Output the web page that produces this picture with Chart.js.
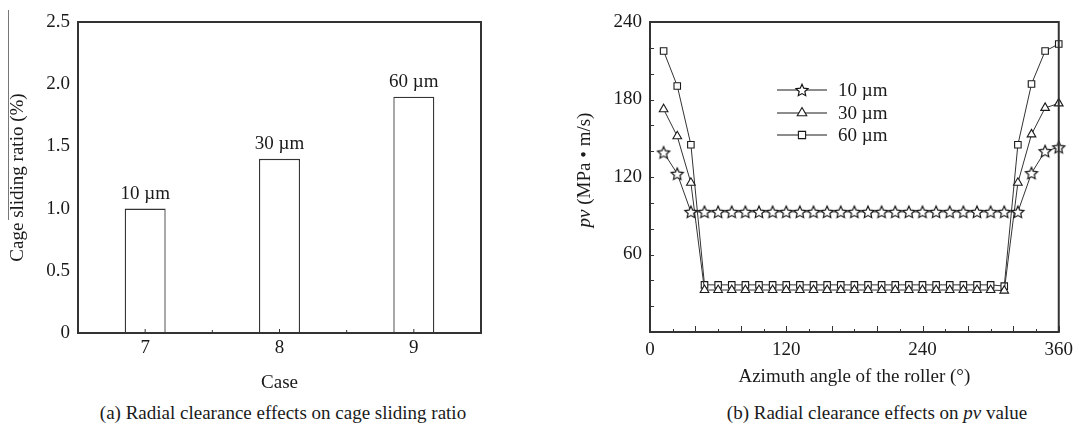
<!DOCTYPE html>
<html>
<head>
<meta charset="utf-8">
<script src="https://cdn.jsdelivr.net/npm/chart.js@4.4.1/dist/chart.umd.min.js"></script>
<style>
  body { margin: 0; background: #fff; width: 1080px; height: 424px; position: relative; overflow: hidden;
         font-family: "Liberation Serif", "DejaVu Serif", serif; color: #1a1a1a; }
  .wrap { position: absolute; top: 0; width: 540px; height: 395px; }
  #wrapA { left: 0; }
  #wrapB { left: 540px; }
  .cap { position: absolute; top: 402px; font-size: 19px; line-height: 22px; white-space: nowrap; transform: translateX(-50%); }
</style>
</head>
<body>
<div class="wrap" id="wrapA"><canvas id="chartA" width="540" height="395"></canvas></div>
<div class="wrap" id="wrapB"><canvas id="chartB" width="540" height="395"></canvas></div>
<div class="cap" style="left:283px">(a) Radial clearance effects on cage sliding ratio</div>
<div class="cap" style="left:877px">(b) Radial clearance effects on <i>pv</i> value</div>

<script>
/* ─── DATA ───────────────────────────────────────────── */
const cases          = ["7", "8", "9"];
const slidingRatio   = [1.0, 1.4, 1.9];
const clearances     = ["10 µm", "30 µm", "60 µm"];

const azimuth = [12, 24, 36, 48, 60, 72, 84, 96, 108, 120, 132, 144, 156, 168, 180,
                 192, 204, 216, 228, 240, 252, 264, 276, 288, 300, 312, 324, 336, 348, 360];
const pv10 = [139, 122.5, 93, 93, 93, 93, 93, 93, 93, 93, 93, 93, 93, 93, 93,
              93, 93, 93, 93, 93, 93, 93, 93, 93, 93, 93, 93, 123, 140, 143];
const pv30 = [172.5, 151.5, 115.5, 32.5, 32.5, 32.5, 32.5, 32.5, 32.5, 32.5, 32.5, 32.5, 32.5, 32.5, 32.5,
              32.5, 32.5, 32.5, 32.5, 32.5, 32.5, 32.5, 32.5, 32.5, 32.5, 32, 115.5, 153, 173.5, 177];
const pv60 = [217.5, 190.5, 145, 36.5, 36.5, 36.5, 36.5, 36.5, 36.5, 36.5, 36.5, 36.5, 36.5, 36.5, 36.5,
              36.5, 36.5, 36.5, 36.5, 36.5, 36.5, 36.5, 36.5, 36.5, 36.5, 35.5, 145, 192, 217.5, 223];

/* ─── COMMON ─────────────────────────────────────────── */
const INK   = "#1a1a1a";
const FRAME = "#333";
const SERIF = "'Liberation Serif', 'DejaVu Serif', serif";
const FS = 19;
const fontT = { family: SERIF, size: FS };

Chart.defaults.color = INK;
Chart.defaults.font.family = SERIF;

// box round the plot area
const framePlugin = {
  id: "frame",
  afterDraw(chart) {
    const { ctx, chartArea: a } = chart;
    ctx.save();
    ctx.strokeStyle = FRAME;
    ctx.lineWidth = 2;
    ctx.strokeRect(a.left, a.top, a.right - a.left, a.bottom - a.top);
    ctx.restore();
  }
};

// five-point star marker, outlined
function starMarker() {
  const c = document.createElement("canvas");
  c.width = 16; c.height = 16;
  const g = c.getContext("2d");
  g.beginPath();
  for (let i = 0; i < 10; i++) {
    const r = i % 2 ? 3.0 : 6.3;
    const ang = -Math.PI / 2 + i * Math.PI / 5;
    const px = 8 + r * Math.cos(ang), py = 8.6 + r * Math.sin(ang);
    i ? g.lineTo(px, py) : g.moveTo(px, py);
  }
  g.closePath();
  g.fillStyle = "#fff";
  g.fill();
  g.strokeStyle = "#111";
  g.lineWidth = 1.2;
  g.stroke();
  return c;
}

/* ─── CHART A: sliding ratio ─────────────────────────── */
const barLabels = {
  id: "barLabels",
  afterDatasetsDraw(chart) {
    const { ctx } = chart;
    const bars = chart.getDatasetMeta(0).data;
    ctx.save();
    ctx.font = `${FS}px ${SERIF}`;
    ctx.fillStyle = INK;
    ctx.textAlign = "center";
    ctx.textBaseline = "middle";
    bars.forEach((b, i) => ctx.fillText(clearances[i], b.x, b.y - 15));
    ctx.restore();
  }
};

const ticksA = {
  id: "ticksA",
  afterDraw(chart) {
    const { ctx, chartArea: a } = chart;
    const x = chart.scales.x;
    ctx.save();
    ctx.strokeStyle = FRAME;
    ctx.lineWidth = 1;
    ctx.beginPath();
    cases.forEach((c, i) => {
      const px = x.getPixelForValue(i);
      ctx.moveTo(px, a.bottom); ctx.lineTo(px, a.bottom - 4);
      if (i > 0) {
        const mid = (px + x.getPixelForValue(i - 1)) / 2;
        ctx.moveTo(mid, a.bottom); ctx.lineTo(mid, a.bottom - 3);
      }
    });
    ctx.stroke();
    // the stray overline beside the axis title
    ctx.strokeStyle = "#777";
    ctx.beginPath();
    ctx.moveTo(8.5, 10); ctx.lineTo(8.5, 220);
    ctx.stroke();
    ctx.restore();
  }
};

new Chart(document.getElementById("chartA"), {
  type: "bar",
  data: {
    labels: cases,
    datasets: [{
      data: slidingRatio,
      backgroundColor: "#fff",
      borderColor: FRAME,
      borderWidth: 1.3,
      barPercentage: 0.305,
      categoryPercentage: 1,
    }],
  },
  options: {
    responsive: false,
    devicePixelRatio: 1,
    animation: false,
    layout: { padding: { left: 0, top: 22, right: 59, bottom: 0 } },
    plugins: { legend: { display: false }, tooltip: { enabled: false } },
    scales: {
      x: {
        offset: true,
        grid: { display: false, drawTicks: false },
        border: { display: false },
        ticks: { font: fontT, color: INK, padding: 4, maxRotation: 0 },
        title: { display: true, text: "Case", font: fontT, color: INK, padding: { top: 0, bottom: 1 } },
        afterFit: s => { s.height = 62; },
      },
      y: {
        min: 0, max: 2.5,
        grid: { display: false, drawTicks: false },
        border: { display: false },
        ticks: {
          stepSize: 0.5, font: fontT, color: INK, padding: 8,
          callback: v => v === 0 ? "0" : v.toFixed(1),
        },
        title: { display: true, text: "Cage sliding ratio (%)", font: fontT, color: INK, padding: { top: 7, bottom: 0 } },
        afterFit: s => { s.width = 78; },
      },
    },
  },
  plugins: [barLabels, ticksA, framePlugin],
});

/* ─── CHART B: pv value ──────────────────────────────── */
const series = [
  { label: clearances[0], values: pv10, style: starMarker(), radius: 4.5 },
  { label: clearances[1], values: pv30, style: "triangle",   radius: 5 },
  { label: clearances[2], values: pv60, style: "rect",       radius: 4.6 },
];

const ticksB = {
  id: "ticksB",
  afterDraw(chart) {
    const { ctx, chartArea: a } = chart;
    const { x, y } = chart.scales;
    ctx.save();
    ctx.strokeStyle = FRAME;
    ctx.lineWidth = 1;
    ctx.beginPath();
    x.ticks.forEach(t => {
      const px = Math.round(x.getPixelForValue(t.value)) + 0.5;
      const len = t.value % 40 === 0 ? 6 : 3;
      ctx.moveTo(px, a.bottom); ctx.lineTo(px, a.bottom - len);
    });
    y.ticks.forEach(t => {
      const py = Math.round(y.getPixelForValue(t.value)) + 0.5;
      ctx.moveTo(a.left, py); ctx.lineTo(a.left + 4, py);
    });
    ctx.stroke();
    ctx.restore();
  }
};

// y title with italic pv
const yTitleB = {
  id: "yTitleB",
  afterDraw(chart) {
    const { ctx } = chart;
    ctx.save();
    ctx.translate(45, 170);
    ctx.rotate(-Math.PI / 2);
    ctx.fillStyle = INK;
    ctx.textBaseline = "middle";
    ctx.textAlign = "left";
    const it = `italic ${FS}px ${SERIF}`, up = `${FS}px ${SERIF}`;
    const p1 = "pv", p2 = " (MPa \u2022 m/s)";
    ctx.font = it; const w1 = ctx.measureText(p1).width;
    ctx.font = up; const w2 = ctx.measureText(p2).width;
    const sx = -(w1 + w2) / 2;
    ctx.font = it; ctx.fillText(p1, sx, 0);
    ctx.font = up; ctx.fillText(p2, sx + w1, 0);
    ctx.restore();
  }
};

// legend: line with marker through it
const legendB = {
  id: "legendB",
  afterDraw(chart) {
    const { ctx } = chart;
    const rows = [90, 113, 135];
    ctx.save();
    series.forEach((s, i) => {
      const y = rows[i];
      ctx.strokeStyle = INK;
      ctx.lineWidth = 1;
      ctx.beginPath();
      ctx.moveTo(237, y); ctx.lineTo(287, y);
      ctx.stroke();
      ctx.fillStyle = "#fff";
      ctx.lineWidth = 1.1;
      Chart.helpers.drawPoint(ctx, { pointStyle: s.style, radius: s.radius + 0.5, rotation: 0, borderWidth: 1.1 }, 262, y);
      ctx.fillStyle = INK;
      ctx.font = `${FS}px ${SERIF}`;
      ctx.textAlign = "left";
      ctx.textBaseline = "middle";
      ctx.fillText(s.label, 298, y + 1);
    });
    ctx.restore();
  }
};

new Chart(document.getElementById("chartB"), {
  type: "line",
  data: {
    datasets: series.map(s => ({
      label: s.label,
      data: azimuth.map((a, i) => ({ x: a, y: s.values[i] })),
      borderColor: FRAME,
      borderWidth: 1,
      pointStyle: s.style,
      pointRadius: s.radius,
      pointBackgroundColor: "#fff",
      pointBorderColor: INK,
      pointBorderWidth: 1.1,
      clip: false,
      tension: 0,
    })),
  },
  options: {
    responsive: false,
    devicePixelRatio: 1,
    animation: false,
    layout: { padding: { left: 0, top: 22, right: 14, bottom: 0 } },
    plugins: { legend: { display: false }, tooltip: { enabled: false } },
    scales: {
      x: {
        type: "linear", min: 0, max: 360,
        grid: { display: false, drawTicks: false },
        border: { display: false },
        ticks: {
          stepSize: 20, autoSkip: false, maxRotation: 0, font: fontT, color: INK, padding: 7,
          callback: v => v % 120 === 0 ? String(v) : "",
        },
        title: { display: true, text: "Azimuth angle of the roller (°)", font: fontT, color: INK, padding: { top: 0, bottom: 7 } },
        afterFit: s => { s.height = 63; },
      },
      y: {
        min: 0, max: 240,
        grid: { display: false, drawTicks: false },
        border: { display: false },
        ticks: {
          stepSize: 20, autoSkip: false, font: fontT, color: INK, padding: 8,
          callback: v => (v > 0 && v % 60 === 0) ? String(v) : "",
        },
        afterFit: s => { s.width = 110; },
      },
    },
  },
  plugins: [ticksB, yTitleB, legendB, framePlugin],
});
</script>
</body>
</html>
